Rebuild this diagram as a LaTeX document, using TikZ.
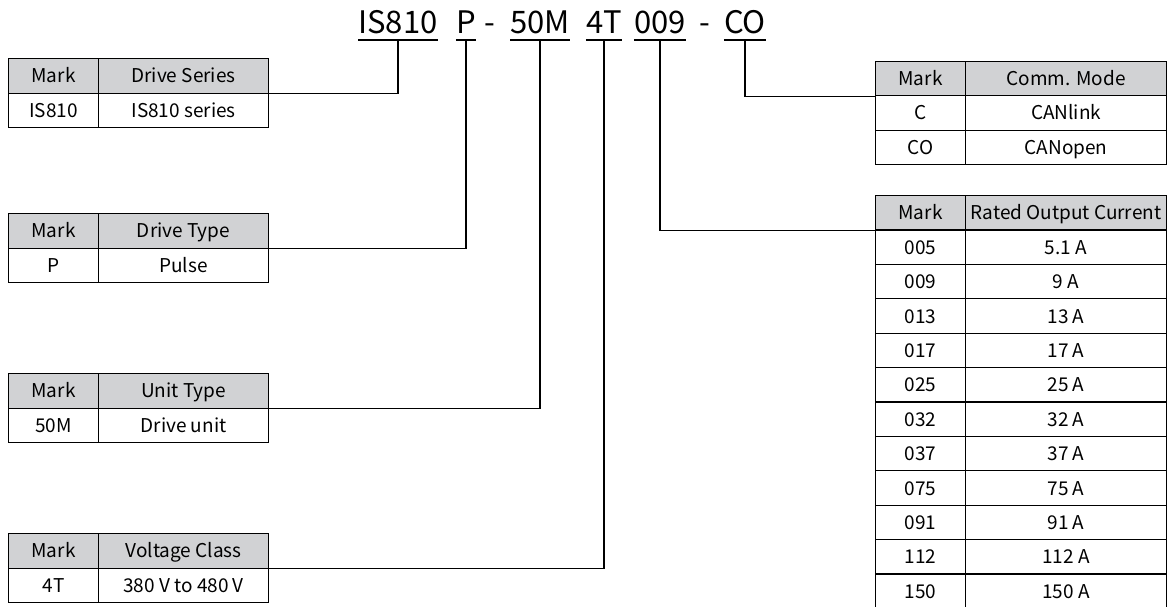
\documentclass[tikz,border=0pt]{standalone}
\usepackage{fontspec}
\setmainfont{Noto Sans CJK SC}
\usetikzlibrary{positioning}

\definecolor{headgray}{RGB}{209,210,212}

\begin{document}
\begin{tikzpicture}[
    x=1pt, y=-1pt,
    cell/.style={
        draw,
        line width=1.1pt,
        inner sep=0pt,
        minimum height=34.5pt,
        text height=14pt, text depth=0pt,
        anchor=north west,
        font=\fontsize{19}{19}\selectfont,
    },
    head/.style={cell, fill=headgray},
    code/.style={inner sep=0pt, anchor=base, font=\fontsize{31}{31}\selectfont},
    link/.style={draw, line width=1.1pt}
]
\useasboundingbox (0,0) rectangle (1168,606);

% model code
\node[code] (cSeries) at (398,33) {IS810};
\node[code] (cType) at (466,33) {P};
\node[code] (dash1) at (490,33) {-};
\node[code] (cUnit) at (540,33) {50M};
\node[code] (cVolt) at (604,33) {4T};
\node[code] (cCurr) at (660,33) {009};
\node[code] (dash2) at (705,33) {-};
\node[code] (cComm) at (745,33) {CO};
\foreach \c in {cSeries,cType,cUnit,cVolt,cCurr,cComm} {
    \draw[line width=1.1pt] ([yshift=-7pt]\c.base west) -- ([yshift=-7pt]\c.base east);
    \coordinate (ul\c) at ([yshift=-7pt]\c.base);
}

% drive series
\node[head, minimum width=90pt] (series-h1) at (8,58) {Mark};
\node[head, minimum width=170pt] (series-h2) at (98,58) {Drive Series};
\node[cell, minimum width=90pt] (series-m) at (8,92.5) {IS810};
\node[cell, minimum width=170pt] (series-v) at (98,92.5) {IS810 series};

% drive type
\node[head, minimum width=90pt] (type-h1) at (8,213) {Mark};
\node[head, minimum width=170pt] (type-h2) at (98,213) {Drive Type};
\node[cell, minimum width=90pt] (type-m) at (8,247.5) {P};
\node[cell, minimum width=170pt] (type-v) at (98,247.5) {Pulse};

% unit type
\node[head, minimum width=90pt] (unit-h1) at (8,373) {Mark};
\node[head, minimum width=170pt] (unit-h2) at (98,373) {Unit Type};
\node[cell, minimum width=90pt] (unit-m) at (8,407.5) {50M};
\node[cell, minimum width=170pt] (unit-v) at (98,407.5) {Drive unit};

% voltage class
\node[head, minimum width=90pt] (volt-h1) at (8,533) {Mark};
\node[head, minimum width=170pt] (volt-h2) at (98,533) {Voltage Class};
\node[cell, minimum width=90pt] (volt-m) at (8,567.5) {4T};
\node[cell, minimum width=170pt] (volt-v) at (98,567.5) {380 V to 480 V};

% comm. mode
\node[head, minimum width=90pt] (comm-h1) at (875,60.5) {Mark};
\node[head, minimum width=201pt] (comm-h2) at (965,60.5) {Comm. Mode};
\foreach \m/\v [count=\i] in {C/CANlink, CO/CANopen} {
    \node[cell, minimum width=90pt] (comm-m\i) at (875,60.5+34.5*\i) {\m};
    \node[cell, minimum width=201pt] (comm-v\i) at (965,60.5+34.5*\i) {\v};
}

% rated output current
\node[head, minimum width=90pt] (curr-h1) at (875,195) {Mark};
\node[head, minimum width=201pt] (curr-h2) at (965,195) {Rated Output Current};
\foreach \m/\v [count=\i] in {005/5.1 A, 009/9 A, 013/13 A, 017/17 A, 025/25 A, 032/32 A,
        037/37 A, 075/75 A, 091/91 A, 112/112 A, 150/150 A} {
    \node[cell, minimum width=90pt] (curr-m\i) at (875,195+34.4*\i) {\m};
    \node[cell, minimum width=201pt] (curr-v\i) at (965,195+34.4*\i) {\v};
}

% links
\draw[link] (ulcSeries) |- (series-h2.south east);
\draw[link] (ulcType) |- (type-h2.south east);
\draw[link] (ulcUnit) |- (unit-h2.south east);
\draw[link] (ulcVolt) |- (volt-h2.south east);
\draw[link] (ulcCurr) |- (curr-h1.south west);
\draw[link] (ulcComm) |- (comm-h1.south west);
\end{tikzpicture}
\end{document}
